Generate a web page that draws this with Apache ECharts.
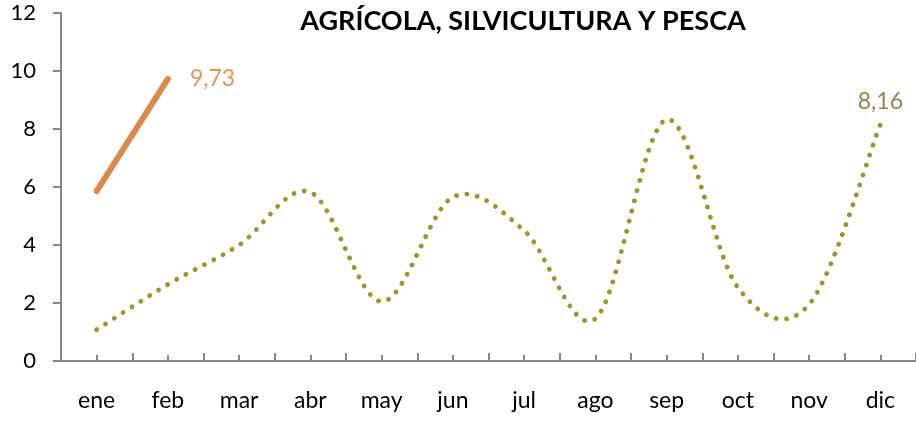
<!DOCTYPE html>
<html>
<head>
<meta charset="utf-8">
<script src="https://cdn.jsdelivr.net/npm/echarts@6/dist/echarts.min.js"></script>
<style>
  html, body { margin: 0; padding: 0; background: #fff; }
  #chart { width: 916px; height: 421px; }
</style>
</head>
<body>
<div id="chart"></div>
<script>
// Monthly categories and values
const months = ['ene', 'feb', 'mar', 'abr', 'may', 'jun', 'jul', 'ago', 'sep', 'oct', 'nov', 'dic'];
const currentYear = [5.86, 9.73];
const previousYear = [1.08, 2.64, 4.0, 5.82, 2.05, 5.65, 4.5, 1.46, 8.33, 2.53, 1.95, 8.16];
const yTicks = { min: 0, max: 12, step: 2 };
const titleText = 'AGRÍCOLA, SILVICULTURA Y PESCA';

const FONT = 'Lato';
const OLIVE = '#9A9730';
const fmt = v => String(v).replace('.', ',');

// Smooth dotted curve through the data points (Catmull-Rom style Bezier
// segments), built in pixel space from the axis coordinates.
function renderSmoothDotted(params, api) {
  if (params.dataIndex !== 0) return null;
  const n = previousYear.length;
  const P = previousYear.map((v, i) => api.coord([i, v]));
  const pts = [];
  for (let i = 0; i < n - 1; i++) {
    const p0 = P[Math.max(i - 1, 0)], p1 = P[i], p2 = P[i + 1], p3 = P[Math.min(i + 2, n - 1)];
    const c1 = [p1[0] + (p2[0] - p0[0]) / 6, p1[1] + (p2[1] - p0[1]) / 6];
    const c2 = [p2[0] - (p3[0] - p1[0]) / 6, p2[1] - (p3[1] - p1[1]) / 6];
    const steps = 40;
    for (let s = (i === 0 ? 0 : 1); s <= steps; s++) {
      const t = s / steps, u = 1 - t;
      const a = u * u * u, b = 3 * u * u * t, c = 3 * u * t * t, d = t * t * t;
      pts.push([
        a * p1[0] + b * c1[0] + c * c2[0] + d * p2[0],
        a * p1[1] + b * c1[1] + c * c2[1] + d * p2[1]
      ]);
    }
  }
  const last = P[n - 1];
  return {
    type: 'group',
    children: [
      {
        type: 'polyline',
        shape: { points: pts },
        style: { stroke: OLIVE, fill: null, lineWidth: 4.8, lineDash: [0.1, 10.4], lineCap: 'round' }
      },
      {
        type: 'text',
        x: last[0],
        y: last[1] - 23,
        style: {
          text: fmt(previousYear[n - 1]),
          fill: '#8E8655',
          fontFamily: FONT,
          fontSize: 23,
          align: 'center',
          verticalAlign: 'middle'
        }
      }
    ]
  };
}

const chart = echarts.init(document.getElementById('chart'), null, { renderer: 'canvas' });

chart.setOption({
  backgroundColor: '#ffffff',
  animation: false,
  title: {
    text: titleText,
    left: 518,
    top: 3,
    textAlign: 'center',
    textStyle: { fontFamily: FONT, fontWeight: 'bold', fontSize: 27, color: '#000' }
  },
  grid: { left: 61, right: -3, top: 13, bottom: 60, containLabel: false },
  xAxis: [
    {
      type: 'category',
      data: months,
      boundaryGap: true,
      axisLine: { show: true, lineStyle: { color: '#878787', width: 2 } },
      axisTick: { show: true, inside: true, length: 8, lineStyle: { color: '#878787', width: 2 } },
      axisLabel: { fontFamily: FONT, fontSize: 23, color: '#000', margin: 28, interval: 0 },
      splitLine: { show: false }
    },
    {
      // ticks at the category centres
      type: 'category',
      data: months,
      position: 'bottom',
      gridIndex: 0,
      boundaryGap: true,
      axisLine: { show: false },
      axisTick: { show: true, inside: true, alignWithLabel: true, length: 6, interval: 0, lineStyle: { color: '#878787', width: 2 } },
      axisLabel: { show: false },
      splitLine: { show: false }
    }
  ],
  yAxis: {
    type: 'value',
    min: yTicks.min,
    max: yTicks.max,
    interval: yTicks.step,
    axisLine: { show: true, lineStyle: { color: '#878787', width: 2 } },
    axisTick: { show: true, inside: false, length: 8, lineStyle: { color: '#878787', width: 2 } },
    axisLabel: { fontFamily: FONT, fontSize: 22, color: '#000', margin: 25 },
    splitLine: { show: false }
  },
  series: [
    {
      name: 'prev',
      type: 'custom',
      data: previousYear.map((v, i) => [i, v]),
      encode: { x: 0, y: 1 },
      renderItem: renderSmoothDotted,
      z: 2
    },
    {
      name: 'curr',
      type: 'line',
      data: currentYear,
      smooth: false,
      showSymbol: false,
      symbol: 'none',
      lineStyle: { color: '#D98B4F', width: 6, cap: 'round' },
      endLabel: {
        show: true,
        position: 'right',
        distance: 22,
        formatter: p => fmt(p.value),
        fontFamily: FONT,
        fontSize: 23,
        color: '#E0965D'
      },
      z: 3
    }
  ]
});
</script>
</body>
</html>
